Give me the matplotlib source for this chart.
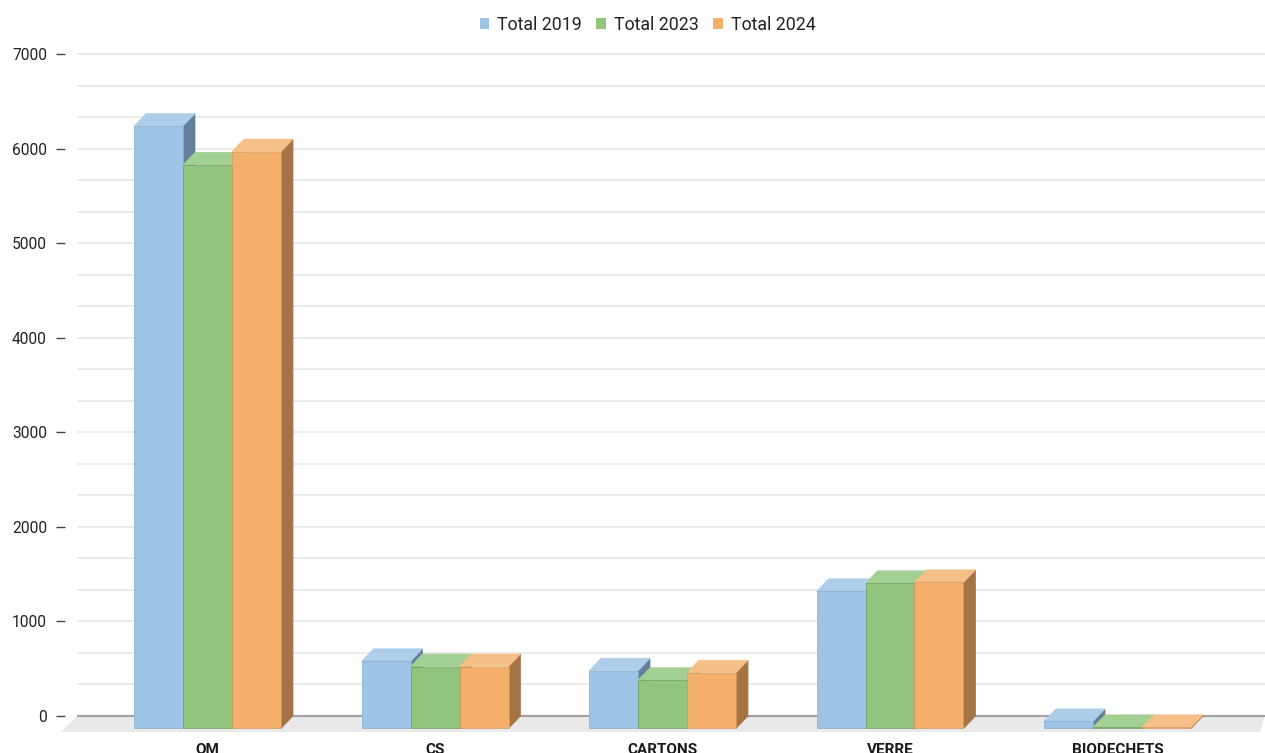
import matplotlib.pyplot as plt
from matplotlib.patches import Polygon, Patch
from matplotlib.ticker import MultipleLocator

plt.rcParams['font.family'] = ['Roboto', 'DejaVu Sans']

# data
categories = ['OM', 'CS', 'CARTONS', 'VERRE', 'BIODECHETS']
total_2019 = [6370, 710, 610, 1450, 75]
total_2023 = [5960, 655, 510, 1535, 12]
total_2024 = [6100, 655, 590, 1545, 12]
series_names = ['Total 2019', 'Total 2023', 'Total 2024']

# front / top / side colours per series
face_colors = ['#9dc3e6', '#93c47d', '#f4b06a']
top_colors = ['#aecde9', '#a4cf93', '#f5bf88']
side_colors = ['#647f9b', '#6b9059', '#a47444']
edge_colors = ['#8aaccc', '#739e62', '#d49a5c']

# geometry (1 px in data units)
px_x = 1 / 227.5
px_y = 1000 / 94.57
bar_w = 49 * px_x
dx = 12 * px_x
dy = 12.5 * px_y

fig = plt.figure(figsize=(12.65, 7.53), dpi=100)
ax = fig.add_axes([77 / 1265, (753 - 736) / 753, (1265 - 77) / 1265, (736 - 48) / 753])
ax.set_xlim(-130.5 * px_x, (1265 - 207.5) * px_x)
ax.set_ylim(-20 * px_y, 7000 + 6 * px_y)

# grid
ax.yaxis.set_major_locator(MultipleLocator(1000))
ax.yaxis.set_minor_locator(MultipleLocator(1000 / 3))
ax.grid(True, axis='y', which='both', color='#e6e6e6', linewidth=1.1, zorder=0)
ax.set_axisbelow(True)

# floor
x0, x1 = ax.get_xlim()
floor = Polygon([(x0, 0), (x1, 0), (x1 - 5 * px_x, -16 * px_y), (x0 - 16 * px_x, -16 * px_y)],
                closed=True, facecolor='#e9e9e9', edgecolor='none', zorder=1, clip_on=False)
ax.add_patch(floor)
ax.axhline(0, color='#a0a0a0', linewidth=1.5, zorder=1.5)


def bar3d(x, v, fc, tc, sc, ec, z):
    front = Polygon([(x, -dy), (x + bar_w, -dy), (x + bar_w, v - dy), (x, v - dy)],
                    closed=True, facecolor=fc, edgecolor=ec, linewidth=0.5, zorder=z, clip_on=False)
    top = Polygon([(x, v - dy), (x + bar_w, v - dy), (x + bar_w + dx, v), (x + dx, v)],
                  closed=True, facecolor=tc, edgecolor=tc, linewidth=0.5, zorder=z, clip_on=False)
    side = Polygon([(x + bar_w, -dy), (x + bar_w + dx, 0), (x + bar_w + dx, v), (x + bar_w, v - dy)],
                   closed=True, facecolor=sc, edgecolor=sc, linewidth=0.5, zorder=z, clip_on=False)
    ax.add_patch(side)
    ax.add_patch(top)
    ax.add_patch(front)


series = [total_2019, total_2023, total_2024]
z = 2
for i in range(len(categories)):
    for s, vals in enumerate(series):
        x = i - 1.5 * bar_w + s * bar_w
        bar3d(x, vals[i], face_colors[s], top_colors[s], side_colors[s], edge_colors[s], z)
        z += 0.01

# axes styling
for sp in ax.spines.values():
    sp.set_visible(False)
ax.spines['left'].set_position(('outward', 8.6))
ax.tick_params(axis='y', which='major', length=6.5, width=1.0, color='#444444',
               pad=6.5, labelsize=11.2, labelcolor='#222222')
ax.tick_params(axis='y', which='minor', length=0)
ax.set_xticks(range(len(categories)))
ax.set_xticklabels(categories, fontweight='bold', fontsize=11, color='#1a1a1a')
ax.tick_params(axis='x', length=0, pad=5)

# legend
handles = [Patch(facecolor=c, edgecolor='none') for c in face_colors]
fig.legend(handles, series_names, loc='center', bbox_to_anchor=(0.512, 0.967),
           ncol=3, frameon=False, fontsize=12.8, handlelength=0.55, handleheight=0.55,
           handletextpad=0.45, columnspacing=0.8, labelcolor='#222222')

fig.savefig('out.png', dpi=100)
